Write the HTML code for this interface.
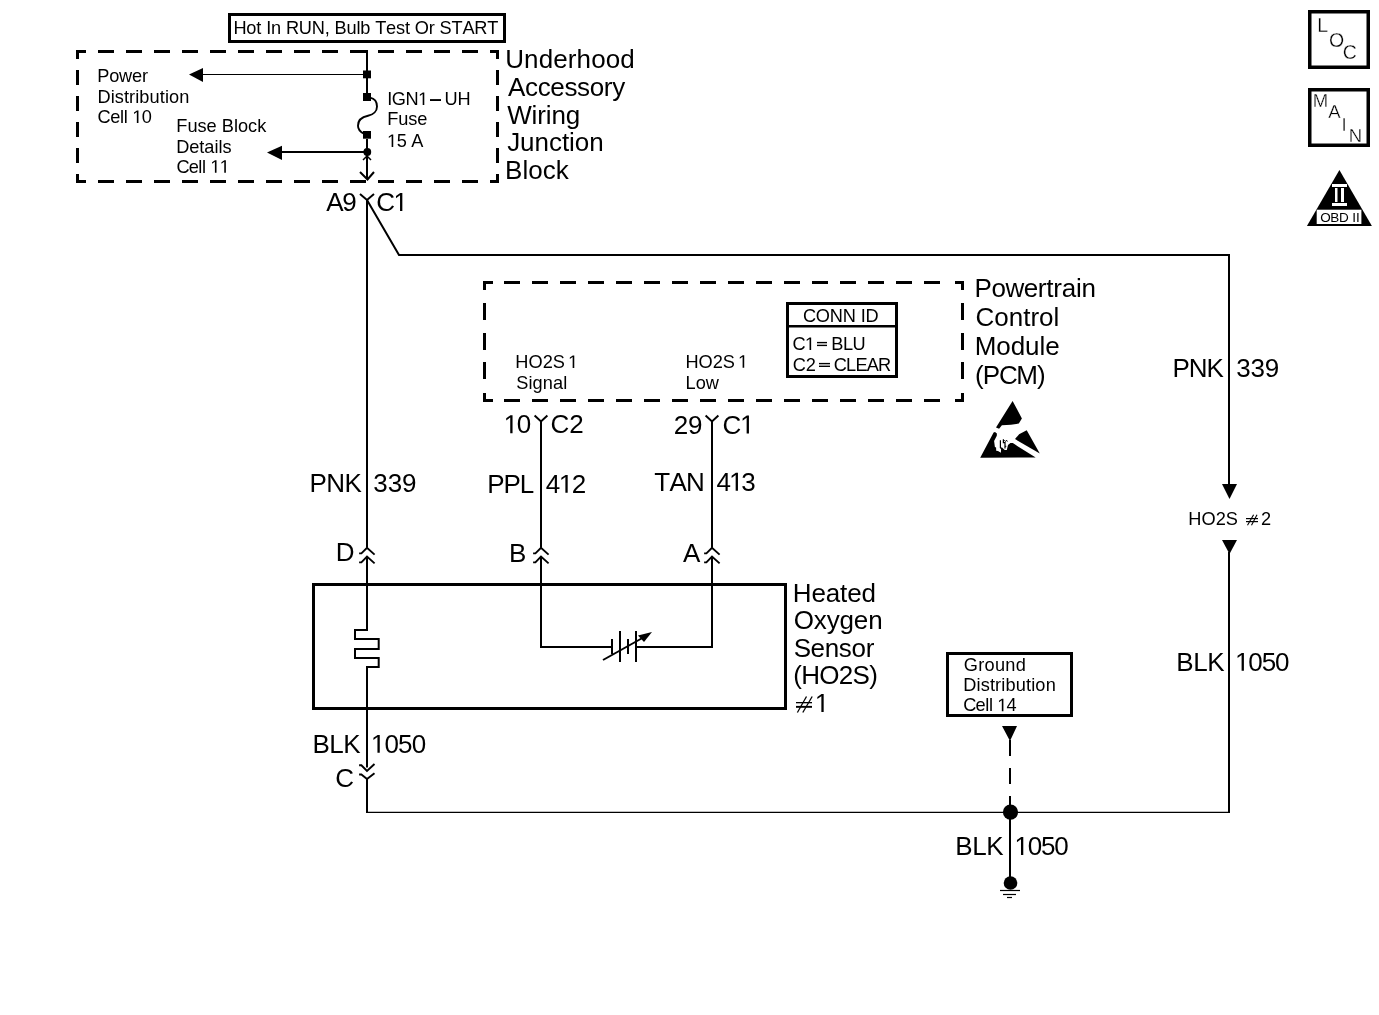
<!DOCTYPE html>
<html><head><meta charset="utf-8"><style>
html,body{margin:0;padding:0;background:#fff;}
svg{display:block;will-change:transform;}
text{font-family:"Liberation Sans",sans-serif;fill:#000;}
.thin text{stroke:#fff;stroke-width:0.3px;}
</style></head><body>
<svg width="1379" height="1015" viewBox="0 0 1379 1015">
<rect width="1379" height="1015" fill="#fff"/>
<rect x="229.5" y="14.5" width="275" height="27" fill="none" stroke="#000" stroke-width="3"/>
<text x="233.41 246.32 256.29 266.20 271.11 285.95 298.84 311.72 324.69 334.52 346.45 356.43 360.33 375.20 386.11 396.04 405.00 414.82 428.77 439.61 451.52 462.41 474.29 487.20" y="34.00" font-size="18.2">HotInRUN,BulbTestOrSTART</text>
<rect x="76" y="50" width="10" height="3"/>
<rect x="76" y="50" width="3" height="9"/>
<rect x="490" y="50" width="9" height="3"/>
<rect x="496" y="50" width="3" height="9"/>
<rect x="76" y="180" width="10" height="3"/>
<rect x="76" y="174" width="3" height="9"/>
<rect x="490" y="180" width="9" height="3"/>
<rect x="496" y="174" width="3" height="9"/>
<rect x="98" y="50" width="16" height="3"/>
<rect x="98" y="180" width="16" height="3"/>
<rect x="126" y="50" width="16" height="3"/>
<rect x="126" y="180" width="16" height="3"/>
<rect x="154" y="50" width="16" height="3"/>
<rect x="154" y="180" width="16" height="3"/>
<rect x="182" y="50" width="16" height="3"/>
<rect x="182" y="180" width="16" height="3"/>
<rect x="210" y="50" width="16" height="3"/>
<rect x="210" y="180" width="16" height="3"/>
<rect x="238" y="50" width="16" height="3"/>
<rect x="238" y="180" width="16" height="3"/>
<rect x="266" y="50" width="16" height="3"/>
<rect x="266" y="180" width="16" height="3"/>
<rect x="294" y="50" width="16" height="3"/>
<rect x="294" y="180" width="16" height="3"/>
<rect x="322" y="50" width="16" height="3"/>
<rect x="322" y="180" width="16" height="3"/>
<rect x="350" y="50" width="16" height="3"/>
<rect x="350" y="180" width="16" height="3"/>
<rect x="378" y="50" width="16" height="3"/>
<rect x="378" y="180" width="16" height="3"/>
<rect x="406" y="50" width="16" height="3"/>
<rect x="406" y="180" width="16" height="3"/>
<rect x="434" y="50" width="16" height="3"/>
<rect x="434" y="180" width="16" height="3"/>
<rect x="462" y="50" width="16" height="3"/>
<rect x="462" y="180" width="16" height="3"/>
<rect x="76" y="70" width="3" height="15"/>
<rect x="496" y="70" width="3" height="15"/>
<rect x="76" y="96" width="3" height="15"/>
<rect x="496" y="96" width="3" height="15"/>
<rect x="76" y="122" width="3" height="15"/>
<rect x="496" y="122" width="3" height="15"/>
<rect x="76" y="148" width="3" height="15"/>
<rect x="496" y="148" width="3" height="15"/>
<text x="97.22 109.16 119.08 132.01 141.98" y="81.80" font-size="18.2">Power</text>
<text x="97.38 110.63 114.75 123.95 129.08 135.20 139.34 149.59 159.81 164.92 169.06 179.31" y="102.80" font-size="18.2">Distribution</text>
<path d="M136.84,123.10 L136.84,112.11 L134.01,114.12 L134.01,112.61 L136.97,110.58 L138.45,110.58 L138.45,123.10Z"/>
<text x="97.58 110.14 119.89 123.73 141.81" y="123.10" font-size="18.2">Cell0</text>
<text x="176.30 187.42 197.53 206.62 221.79 233.93 237.97 248.08 257.18" y="131.80" font-size="18.2">FuseBlock</text>
<text x="176.26 189.30 199.35 204.34 214.40 218.41 222.39" y="152.80" font-size="18.2">Details</text>
<path d="M214.90,172.80 L214.90,161.81 L212.07,163.82 L212.07,162.31 L215.03,160.28 L216.51,160.28 L216.51,172.80Z"/>
<path d="M224.26,172.80 L224.26,161.81 L221.43,163.82 L221.43,162.31 L224.39,160.28 L225.87,160.28 L225.87,172.80Z"/>
<text x="176.44 188.72 198.31 202.05" y="172.80" font-size="18.2">Cell</text>
<path d="M422.69,104.90 L422.69,93.91 L419.86,95.92 L419.86,94.41 L422.82,92.38 L424.29,92.38 L424.29,104.90Z"/>
<text x="387.18 391.84 405.41" y="104.90" font-size="18.2">IGN</text>
<rect x="430" y="99.1" width="11" height="1.9000000000000057"/>
<text x="444.53 457.51" y="104.90" font-size="18.2">UH</text>
<text x="387.18 398.22 408.28 417.32" y="125.30" font-size="18.2">Fuse</text>
<path d="M391.64,147.00 L391.64,136.01 L388.81,138.02 L388.81,136.51 L391.77,134.48 L393.24,134.48 L393.24,147.00Z"/>
<text x="396.72 411.24" y="147.00" font-size="18.2">5A</text>
<text x="505.16 524.09 538.67 553.27 567.84 576.60 591.18 605.78 620.36" y="68.10" font-size="26">Underhood</text>
<text x="508.02 524.97 537.63 550.28 564.38 577.04 589.68 603.83 612.22" y="95.80" font-size="26">Accessory</text>
<text x="507.24 531.59 537.27 545.85 551.50 565.79" y="123.50" font-size="26">Wiring</text>
<text x="507.17 520.12 534.53 548.94 561.90 569.10 574.84 589.25" y="151.20" font-size="26">Junction</text>
<text x="505.00 522.40 528.23 542.76 555.83" y="178.90" font-size="26">Block</text>
<rect x="366" y="50" width="2" height="21"/>
<path d="M367,71 L367,93" fill="none" stroke="#000" stroke-width="2" />
<path d="M367,139 L367,152" fill="none" stroke="#000" stroke-width="2" />
<rect x="363" y="70.5" width="8" height="7.799999999999997"/>
<rect x="363" y="93" width="8" height="8"/>
<rect x="363" y="131" width="8" height="7.699999999999989"/>
<path d="M370,97.6 C374.5,98.5 377,102 377,106.5 C377,111 373.5,114.8 368,115.8 C362,117 358,120 358,125.7 C358,129 360,131.5 363.5,133.5" fill="none" stroke="#000" stroke-width="1.9"/>
<path d="M203,74.5 L367,74.5" fill="none" stroke="#000" stroke-width="1" />
<path d="M189,74.5 L203,67.9 L203,82Z"/>
<path d="M282,152 L367,152" fill="none" stroke="#000" stroke-width="2" />
<path d="M267,152.5 L282,145.8 L282,159.9Z"/>
<circle cx="367.3" cy="152" r="3.9"/>
<path d="M363,160 L367,156 L371,160" fill="none" stroke="#000" stroke-width="1.5" />
<path d="M367,152 L367,179" fill="none" stroke="#000" stroke-width="2" />
<path d="M360,172 L367.5,179.5 L374,172" fill="none" stroke="#000" stroke-width="2" />
<text x="326.24 342.27" y="211.00" font-size="26">A9</text>
<path d="M400.04,211.00 L400.04,195.30 L396.00,198.18 L396.00,196.02 L400.23,193.11 L402.34,193.11 L402.34,211.00Z"/>
<text x="376.31" y="211.00" font-size="26">C</text>
<path d="M360,194 L367,200 L374,194" fill="none" stroke="#000" stroke-width="2" />
<path d="M367,200 L367,547.8" fill="none" stroke="#000" stroke-width="2" />
<path d="M367,200 L399,255 L1229,255 L1229,490" fill="none" stroke="#000" stroke-width="2" />
<path d="M1222,484 L1237,484 L1229.5,499Z"/>
<text x="1172.40 1188.79 1206.55" y="376.60" font-size="26">PNK</text>
<text x="1236.14 1250.44 1264.74" y="376.60" font-size="26">339</text>
<text x="1188.24 1201.46 1215.68 1225.87" y="525.20" font-size="18.2">HO2S</text>
<path d="M1247.5,525.3 L1253.6,514.7" fill="none" stroke="#000" stroke-width="1.1" />
<path d="M1251.5,525.3 L1257,514.7" fill="none" stroke="#000" stroke-width="1.1" />
<rect x="1246" y="518" width="12" height="1.2000000000000455"/>
<rect x="1246" y="521" width="12" height="1.2000000000000455"/>
<text x="1260.89" y="525.20" font-size="18.2">2</text>
<path d="M1222,540 L1237,540 L1229.5,554Z"/>
<path d="M1229,552 L1229,813" fill="none" stroke="#000" stroke-width="2" />
<path d="M366,812.4 L1230,812.4" fill="none" stroke="#000" stroke-width="1.3" />
<text x="1176.36 1193.21 1207.18" y="670.80" font-size="26">BLK</text>
<path d="M1241.60,670.80 L1241.60,655.10 L1237.57,657.98 L1237.57,655.82 L1241.79,652.91 L1243.90,652.91 L1243.90,670.80Z"/>
<text x="1248.34 1261.73 1275.12" y="670.80" font-size="26">050</text>
<rect x="483" y="281" width="10" height="3"/>
<rect x="483" y="281" width="3" height="9"/>
<rect x="955" y="281" width="9" height="3"/>
<rect x="961" y="281" width="3" height="9"/>
<rect x="483" y="399" width="10" height="3"/>
<rect x="483" y="393" width="3" height="9"/>
<rect x="955" y="399" width="9" height="3"/>
<rect x="961" y="393" width="3" height="9"/>
<rect x="504" y="281" width="16" height="3"/>
<rect x="504" y="399" width="16" height="3"/>
<rect x="532" y="281" width="16" height="3"/>
<rect x="532" y="399" width="16" height="3"/>
<rect x="560" y="281" width="16" height="3"/>
<rect x="560" y="399" width="16" height="3"/>
<rect x="588" y="281" width="16" height="3"/>
<rect x="588" y="399" width="16" height="3"/>
<rect x="616" y="281" width="16" height="3"/>
<rect x="616" y="399" width="16" height="3"/>
<rect x="644" y="281" width="16" height="3"/>
<rect x="644" y="399" width="16" height="3"/>
<rect x="672" y="281" width="16" height="3"/>
<rect x="672" y="399" width="16" height="3"/>
<rect x="700" y="281" width="16" height="3"/>
<rect x="700" y="399" width="16" height="3"/>
<rect x="728" y="281" width="16" height="3"/>
<rect x="728" y="399" width="16" height="3"/>
<rect x="756" y="281" width="16" height="3"/>
<rect x="756" y="399" width="16" height="3"/>
<rect x="784" y="281" width="16" height="3"/>
<rect x="784" y="399" width="16" height="3"/>
<rect x="812" y="281" width="16" height="3"/>
<rect x="812" y="399" width="16" height="3"/>
<rect x="840" y="281" width="16" height="3"/>
<rect x="840" y="399" width="16" height="3"/>
<rect x="868" y="281" width="16" height="3"/>
<rect x="868" y="399" width="16" height="3"/>
<rect x="896" y="281" width="16" height="3"/>
<rect x="896" y="399" width="16" height="3"/>
<rect x="924" y="281" width="16" height="3"/>
<rect x="924" y="399" width="16" height="3"/>
<rect x="483" y="303" width="3" height="17"/>
<rect x="961" y="303" width="3" height="17"/>
<rect x="483" y="333" width="3" height="17"/>
<rect x="961" y="333" width="3" height="17"/>
<rect x="483" y="362" width="3" height="17"/>
<rect x="961" y="362" width="3" height="17"/>
<text x="515.31 528.48 542.65 552.79" y="368.00" font-size="18.2">HO2S</text>
<path d="M572.66,368.00 L572.66,357.01 L569.83,359.02 L569.83,357.51 L572.79,355.48 L574.27,355.48 L574.27,368.00Z"/>
<text x="516.22 528.44 532.54 542.76 552.98 563.17" y="389.00" font-size="18.2">Signal</text>
<text x="685.48 698.56 712.65 722.72" y="367.70" font-size="18.2">HO2S</text>
<path d="M742.61,367.70 L742.61,356.71 L739.78,358.72 L739.78,357.21 L742.74,355.18 L744.22,355.18 L744.22,367.70Z"/>
<text x="685.51 695.66 705.80" y="388.70" font-size="18.2">Low</text>
<rect x="787.5" y="303.5" width="109" height="73" fill="none" stroke="#000" stroke-width="3"/>
<rect x="789" y="325" width="106" height="2.5"/>
<text x="802.97 815.87 829.78 842.69 860.64 865.52" y="322.40" font-size="18.2">CONNID</text>
<path d="M809.54,349.90 L809.54,338.91 L806.71,340.92 L806.71,339.41 L809.67,337.38 L811.15,337.38 L811.15,349.90Z"/>
<text x="792.50" y="349.90" font-size="18.2">C</text>
<rect x="817" y="341.9" width="10" height="1.400000000000034"/>
<rect x="817" y="344.7" width="10" height="1.400000000000034"/>
<text x="831.30 842.95 852.58" y="349.90" font-size="18.2">BLU</text>
<text x="792.82 805.84" y="370.50" font-size="18.2">C2</text>
<rect x="819" y="362.9" width="11" height="1.400000000000034"/>
<rect x="819" y="365.6" width="11" height="1.3999999999999773"/>
<text x="833.68 846.01 855.38 866.71 877.97" y="370.50" font-size="18.2">CLEAR</text>
<text x="974.48 991.40 1005.41 1023.74 1037.87 1046.33 1053.32 1061.67 1075.88 1081.38" y="296.60" font-size="26">Powertrain</text>
<text x="975.48 994.27 1008.74 1023.20 1030.43 1039.10 1053.56" y="325.70" font-size="26">Control</text>
<text x="974.65 996.26 1010.69 1025.12 1039.56 1045.31" y="354.80" font-size="26">Module</text>
<text x="974.95 982.76 998.89 1016.31 1036.99" y="383.90" font-size="26">(PCM)</text>
<path d="M510.24,433.20 L510.24,417.50 L506.20,420.38 L506.20,418.22 L510.43,415.31 L512.54,415.31 L512.54,433.20Z"/>
<text x="516.64" y="433.20" font-size="26">0</text>
<text x="550.60 569.21" y="433.20" font-size="26">C2</text>
<path d="M534.6,415.6 L541,421.5 L547.4,415.6" fill="none" stroke="#000" stroke-width="2" />
<path d="M541,421.5 L541,547.8" fill="none" stroke="#000" stroke-width="2" />
<text x="673.84 687.93" y="433.50" font-size="26">29</text>
<path d="M746.64,433.50 L746.64,417.80 L742.61,420.68 L742.61,418.52 L746.83,415.61 L748.94,415.61 L748.94,433.50Z"/>
<text x="722.46" y="433.50" font-size="26">C</text>
<path d="M705.6,415.6 L712,421.5 L718.4,415.6" fill="none" stroke="#000" stroke-width="2" />
<path d="M712,421.5 L712,547.8" fill="none" stroke="#000" stroke-width="2" />
<text x="309.45 326.22 344.39" y="492.30" font-size="26">PNK</text>
<text x="373.34 387.64 401.94" y="492.30" font-size="26">339</text>
<text x="487.14 503.41 519.76" y="492.80" font-size="26">PPL</text>
<path d="M565.38,492.80 L565.38,477.10 L561.34,479.98 L561.34,477.82 L565.57,474.91 L567.68,474.91 L567.68,492.80Z"/>
<text x="545.66 571.73" y="492.80" font-size="26">42</text>
<text x="654.37 669.48 685.98" y="490.70" font-size="26">TAN</text>
<path d="M735.66,490.70 L735.66,475.00 L731.62,477.88 L731.62,475.72 L735.85,472.81 L737.96,472.81 L737.96,490.70Z"/>
<text x="716.48 741.35" y="490.70" font-size="26">43</text>
<path d="M359.1,553.4 L361.4,553.4 L367,547.8 L374.6,554.6" fill="none" stroke="#000" stroke-width="1.9" />
<path d="M359.1,562.4 L361.4,562.4 L367,556.6 L374.6,563.4" fill="none" stroke="#000" stroke-width="1.9" />
<path d="M533.1,553.4 L535.4,553.4 L541,547.8 L548.6,554.6" fill="none" stroke="#000" stroke-width="1.9" />
<path d="M533.1,562.4 L535.4,562.4 L541,556.6 L548.6,563.4" fill="none" stroke="#000" stroke-width="1.9" />
<path d="M704.1,553.4 L706.4,553.4 L712,547.8 L719.6,554.6" fill="none" stroke="#000" stroke-width="1.9" />
<path d="M704.1,562.4 L706.4,562.4 L712,556.6 L719.6,563.4" fill="none" stroke="#000" stroke-width="1.9" />
<text x="335.72" y="560.90" font-size="26">D</text>
<text x="508.90" y="561.70" font-size="26">B</text>
<text x="682.93" y="561.70" font-size="26">A</text>
<rect x="313.5" y="584.5" width="472" height="124" fill="none" stroke="#000" stroke-width="3"/>
<path d="M367,556.5 L367,630 L355,630 L355,639 L378.7,639 L378.7,649 L355,649 L355,658 L378.7,658 L378.7,667 L367,667 L367,767.6" fill="none" stroke="#000" stroke-width="2" />
<path d="M541,556.5 L541,647 L612,647" fill="none" stroke="#000" stroke-width="2" />
<path d="M636,647 L712,647 L712,556.5" fill="none" stroke="#000" stroke-width="2" />
<path d="M612,639 L612,654" fill="none" stroke="#000" stroke-width="2" />
<path d="M620,631 L620,662" fill="none" stroke="#000" stroke-width="2" />
<path d="M628,639 L628,654" fill="none" stroke="#000" stroke-width="2" />
<path d="M636,631 L636,662" fill="none" stroke="#000" stroke-width="2" />
<path d="M603,660 L646,636" fill="none" stroke="#000" stroke-width="2" />
<path d="M652,632 L638,635.5 L644,642Z"/>
<text x="792.80 811.43 825.75 840.11 847.24 861.57" y="601.50" font-size="26">Heated</text>
<text x="793.69 813.76 826.64 839.52 853.85 868.18" y="629.10" font-size="26">Oxygen</text>
<text x="793.64 810.59 824.70 838.83 851.49 865.65" y="656.70" font-size="26">Sensor</text>
<text x="793.24 801.33 819.26 838.73 852.50 869.30" y="684.30" font-size="26">(HO2S)</text>
<path d="M797.4,712.5 L806.5,696.5" fill="none" stroke="#000" stroke-width="1.3" />
<path d="M802.8,712.5 L812.2,696.5" fill="none" stroke="#000" stroke-width="1.3" />
<rect x="796" y="702" width="16" height="1.2999999999999545"/>
<rect x="796" y="705.9" width="16" height="1.8999999999999773"/>
<path d="M821.37,711.90 L821.37,696.20 L817.33,699.08 L817.33,696.92 L821.56,694.01 L823.67,694.01 L823.67,711.90Z"/>
<text x="312.39 329.31 343.34" y="752.80" font-size="26">BLK</text>
<path d="M377.45,752.80 L377.45,737.10 L373.42,739.98 L373.42,737.82 L377.65,734.91 L379.75,734.91 L379.75,752.80Z"/>
<text x="384.46 398.09 411.71" y="752.80" font-size="26">050</text>
<path d="M359.1,765.3 L361.4,765.3 L367,771 L374.5,764" fill="none" stroke="#000" stroke-width="1.9" />
<path d="M359.1,774.5 L361.4,774.5 L367,779 L374.5,773.2" fill="none" stroke="#000" stroke-width="1.9" />
<path d="M367,778.5 L367,813" fill="none" stroke="#000" stroke-width="2" />
<text x="335.30" y="786.80" font-size="26">C</text>
<rect x="947.5" y="653.5" width="124" height="62" fill="none" stroke="#000" stroke-width="3"/>
<text x="963.85 978.29 984.56 994.95 1005.35 1015.74" y="670.70" font-size="18.2">Ground</text>
<text x="963.21 976.52 980.69 989.93 995.11 1001.26 1005.44 1015.76 1026.03 1031.18 1035.36 1045.68" y="690.70" font-size="18.2">Distribution</text>
<path d="M1001.81,711.20 L1001.81,700.21 L998.98,702.22 L998.98,700.71 L1001.94,698.68 L1003.41,698.68 L1003.41,711.20Z"/>
<text x="963.26 975.57 985.18 988.93 1006.54" y="711.20" font-size="18.2">Cell4</text>
<path d="M1002,726 L1017,726 L1010,741Z"/>
<rect x="1009" y="740" width="2" height="16"/>
<rect x="1009" y="768" width="2" height="16"/>
<rect x="1009" y="796" width="2" height="16"/>
<circle cx="1010.5" cy="812.2" r="7.6"/>
<path d="M1010,812 L1010,883" fill="none" stroke="#000" stroke-width="2" />
<text x="955.36 972.21 986.18" y="855.00" font-size="26">BLK</text>
<path d="M1020.99,855.00 L1020.99,839.30 L1016.95,842.18 L1016.95,840.02 L1021.18,837.11 L1023.28,837.11 L1023.28,855.00Z"/>
<text x="1027.63 1040.94 1054.25" y="855.00" font-size="26">050</text>
<circle cx="1010.5" cy="883" r="6.8"/>
<path d="M1000,890.5 L1020,890.5" fill="none" stroke="#000" stroke-width="1.2" />
<path d="M1003,894.5 L1016,894.5" fill="none" stroke="#000" stroke-width="1.2" />
<path d="M1007,897.5 L1012,897.5" fill="none" stroke="#000" stroke-width="1.2" />
<path d="M1012.6,401 L1021.9,418.4 L1018.8,423.6 L1010.9,424.7 L1001.9,425.3 L999.1,428.8 L996,427.4Z"/>
<path d="M980.2,457.8 L993.6,432.6 L995,431.9 L996.9,433.4 L996.8,435.7 L994.1,441 L994.9,446.9 L996.1,447.5 L996.2,450.8 L998,451.1 L1000.9,452.8 L1001.1,448.1 L1001.8,447.2 L1003.6,449 L1004.8,449.9 L1006.8,449.9 L1008,445.1 L1010.4,443.1 L1012.8,443.1 L1015.1,444.6 L1035.7,457.4Z"/>
<path d="M1000.4,440.2 L1000.4,447.8 L1002,449" fill="none" stroke="#000" stroke-width="1.2" />
<path d="M1003.4,439.3 L1003.4,442.6 L1005,442.6 L1005,448.6" fill="none" stroke="#000" stroke-width="1.2" />
<path d="M1003.4,441.6 L1004.6,440.6 L1005.6,441.4 L1006.6,440.2 L1007.3,441.6" fill="none" stroke="#000" stroke-width="1" />
<path d="M1005,446.3 L1006.3,446.3" fill="none" stroke="#000" stroke-width="1" />
<path d="M1015,439.1 L1019.1,434.3 L1026.7,430.2 L1039.8,453.6Z"/>
<rect x="1309.75" y="11.75" width="58.5" height="55.5" fill="none" stroke="#000" stroke-width="3.5"/>
<g class="thin">
<text x="1317.30" y="31.90" font-size="19.5">L</text>
<text x="1328.92" y="46.50" font-size="19.5">O</text>
<text x="1342.84" y="58.50" font-size="19.5">C</text>
<rect x="1309.75" y="89.75" width="58.5" height="55.5" fill="none" stroke="#000" stroke-width="3.5"/>
<text x="1312.79" y="106.80" font-size="18.5">M</text>
<text x="1328.23" y="117.70" font-size="18.5">A</text>
<text x="1341.49" y="130.90" font-size="18.5">I</text>
<text x="1348.87" y="141.90" font-size="18.5">N</text>
</g>
<path d="M1339.4,170 L1371.9,226 L1306.9,226Z"/>
<g fill="#fff">
<rect x="1332" y="184" width="15" height="3"/>
<rect x="1332" y="203" width="15" height="3"/>
<rect x="1335" y="188" width="2.5" height="14"/>
<rect x="1341" y="188" width="3" height="14"/>
<rect x="1316.7" y="209.7" width="44.700000000000045" height="14.300000000000011"/>
</g>
<text x="1320.13 1330.34 1339.07 1352.27 1355.91" y="221.50" font-size="13.5">OBDII</text>
</svg>
</body></html>
